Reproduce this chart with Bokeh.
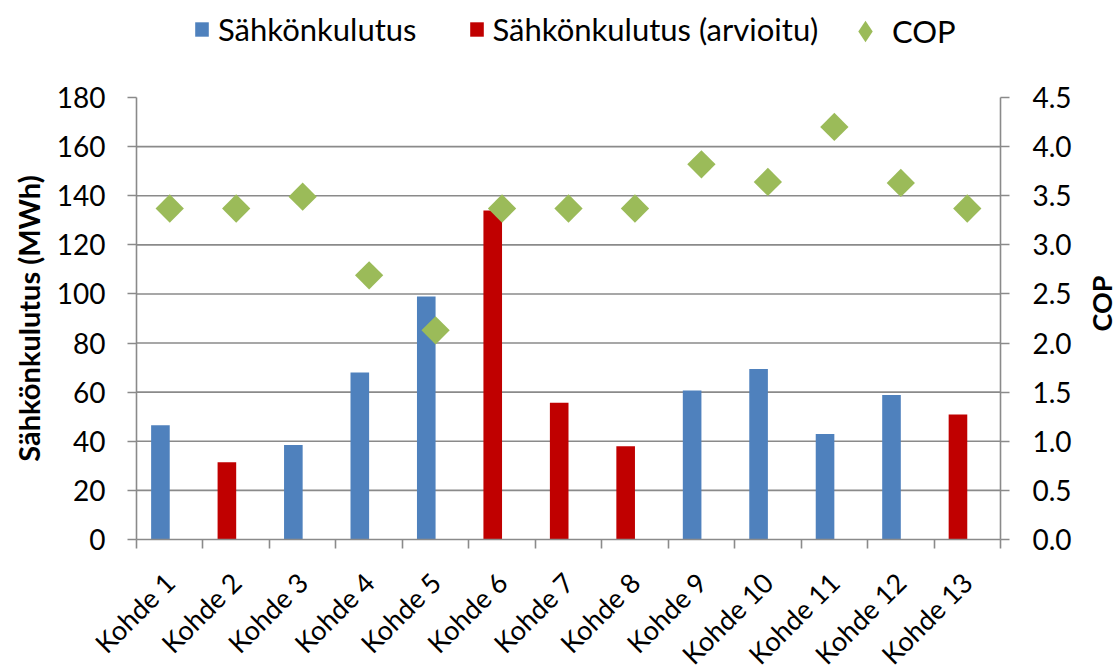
import numpy as np
from bokeh.plotting import figure
from bokeh.models import (Range1d, LinearAxis, FixedTicker, Legend, LegendItem,
                          ColumnDataSource, Label, NumeralTickFormatter)
from bokeh.embed import file_html
from bokeh.resources import INLINE

# ---- data ----
categories = ["Kohde 1", "Kohde 2", "Kohde 3", "Kohde 4", "Kohde 5", "Kohde 6", "Kohde 7",
              "Kohde 8", "Kohde 9", "Kohde 10", "Kohde 11", "Kohde 12", "Kohde 13"]
consumption = [46.5, None, 38.5, 68, 99, None, None, None, 60.7, 69.4, 43, 58.8, None]
estimated = [None, 31.5, None, None, None, 134, 55.7, 38, None, None, None, None, 50.9]
cop = [3.37, 3.37, 3.49, 2.69, 2.13, 3.37, 3.37, 3.37, 3.82, 3.64, 4.20, 3.63, 3.37]
left_ticks = [0, 20, 40, 60, 80, 100, 120, 140, 160, 180]
right_ticks = [0.0, 0.5, 1.0, 1.5, 2.0, 2.5, 3.0, 3.5, 4.0, 4.5]

FONT = "Lato"
BLUE = "#4F81BD"
RED = "#C00000"
GREEN = "#9BBB59"
GRID = "#8A8A8A"

W, H = 1120, 671
# plot-area placement in pixels (whole canvas is the frame; axes sit at fixed locations)
PX_L, PX_R, PX_T, PX_B = 136, 1000, 97, 539

n = len(categories)
centers = [i + 0.5 for i in range(n)]
BAR_W = 0.28
OFF = -0.14

ymax = left_ticks[-1]
cmax = right_ticks[-1]
xs = (PX_R - PX_L) / n
ys = (PX_B - PX_T) / ymax
cs = (PX_B - PX_T) / cmax
x_range = Range1d(-PX_L / xs, n + (W - PX_R) / xs)
y_range = Range1d(-(H - PX_B) / ys, ymax + PX_T / ys)
cop_range = Range1d(-(H - PX_B) / cs, cmax + PX_T / cs)

blue_src = ColumnDataSource(dict(
    x=[centers[i] + OFF for i in range(n) if consumption[i] is not None],
    top=[v for v in consumption if v is not None]))
red_src = ColumnDataSource(dict(
    x=[centers[i] + OFF for i in range(n) if estimated[i] is not None],
    top=[v for v in estimated if v is not None]))
cop_src = ColumnDataSource(dict(x=centers, y=cop))
grid_src = ColumnDataSource(dict(x0=[0] * (len(left_ticks) - 2), x1=[n] * (len(left_ticks) - 2),
                                 y=left_ticks[1:-1]))

p = figure(width=W, height=H, output_backend="svg", toolbar_location=None,
           x_range=x_range, y_range=y_range,
           min_border_left=0, min_border_right=0, min_border_top=0, min_border_bottom=0)
p.outline_line_color = None
p.extra_y_ranges = {"cop": cop_range}
p.xgrid.visible = False
p.ygrid.visible = False

# horizontal gridlines at the left-axis ticks (no line at the top value)
p.segment(x0="x0", x1="x1", y0="y", y1="y", source=grid_src, line_color=GRID, line_width=1.6)

b1 = p.vbar(x="x", top="top", width=BAR_W, source=blue_src, fill_color=BLUE, line_color=None)
b2 = p.vbar(x="x", top="top", width=BAR_W, source=red_src, fill_color=RED, line_color=None)
# diamond key for the legend (fully covered by the rotated-square markers drawn on top)
sc_key = p.scatter(x="x", y="y", source=cop_src, marker="diamond", size=18,
                   fill_color=GREEN, line_color=None, y_range_name="cop")
sc = p.scatter(x="x", y="y", source=cop_src, marker="square", size=20, angle=np.pi / 4,
               fill_color=GREEN, line_color=None, y_range_name="cop")

# x axis
xa = p.xaxis[0]
xa.fixed_location = 0
xa.bounds = (0, n)
xa.ticker = FixedTicker(ticks=centers, minor_ticks=list(range(n + 1)))
xa.major_label_overrides = {c: lab for c, lab in zip(centers, categories)}
xa.major_label_orientation = np.pi / 4
xa.major_tick_out = 0
xa.major_tick_in = 0
xa.minor_tick_out = 9
xa.minor_tick_in = 0
xa.minor_tick_line_color = GRID
xa.minor_tick_line_width = 1.6
xa.axis_line_color = GRID
xa.axis_line_width = 1.6
xa.major_label_text_font = FONT
xa.major_label_text_font_size = "27px"
xa.major_label_text_color = "#000000"
xa.major_label_standoff = 29

# left axis
ya = p.yaxis[0]
ya.fixed_location = 0
ya.bounds = (0, ymax)
ya.ticker = FixedTicker(ticks=left_ticks)
ya.axis_label = "Sähkönkulutus (MWh)"
ya.axis_label_text_font = FONT
ya.axis_label_text_font_style = "bold"
ya.axis_label_text_font_size = "29px"
ya.axis_label_text_color = "#000000"
ya.axis_label_standoff = 8
ya.major_label_text_font = FONT
ya.major_label_text_font_size = "28px"
ya.major_label_text_color = "#000000"
ya.major_label_standoff = 22
ya.major_tick_out = 9
ya.major_tick_in = 0
ya.minor_tick_out = 0
ya.minor_tick_in = 0
ya.major_tick_line_color = GRID
ya.major_tick_line_width = 1.6
ya.axis_line_color = GRID
ya.axis_line_width = 1.6

# right axis
ra = LinearAxis(y_range_name="cop", ticker=FixedTicker(ticks=right_ticks),
                formatter=NumeralTickFormatter(format="0.0"), fixed_location=n,
                bounds=(0, cmax))
ra.major_label_text_font = FONT
ra.major_label_text_font_size = "28px"
ra.major_label_text_color = "#000000"
ra.major_label_standoff = 23
ra.major_tick_out = 9
ra.major_tick_in = 0
ra.minor_tick_out = 0
ra.minor_tick_in = 0
ra.major_tick_line_color = GRID
ra.major_tick_line_width = 1.6
ra.axis_line_color = GRID
ra.axis_line_width = 1.6
p.add_layout(ra, "right")

# COP axis title (reads bottom-to-top as in the reference)
p.add_layout(Label(x=1101, y=H - 303, x_units="screen", y_units="screen", text="COP",
                   angle=np.pi / 2, text_align="center", text_baseline="middle",
                   text_font=FONT, text_font_style="bold", text_font_size="27px",
                   text_color="#000000"))

# legends (location = bottom-left corner, measured from the canvas bottom-left)
leg1 = Legend(items=[LegendItem(label="Sähkönkulutus", renderers=[b1]),
                     LegendItem(label="Sähkönkulutus (arvioitu)", renderers=[b2])],
              orientation="horizontal", location=(193, H - 48), padding=0, margin=0,
              spacing=51, glyph_width=17, glyph_height=18, label_standoff=8,
              label_text_font=FONT, label_text_font_size="31px", label_text_color="#000000",
              border_line_color=None, background_fill_alpha=0)
leg2 = Legend(items=[LegendItem(label="COP", renderers=[sc_key])],
              orientation="horizontal", location=(838, H - 58), padding=0, margin=0,
              glyph_width=54, glyph_height=54, label_standoff=0,
              label_text_font=FONT, label_text_font_size="31px", label_text_color="#000000",
              border_line_color=None, background_fill_alpha=0)
p.add_layout(leg1, "center")
p.add_layout(leg2, "center")

open("out.html", "w").write(file_html(p, INLINE))
